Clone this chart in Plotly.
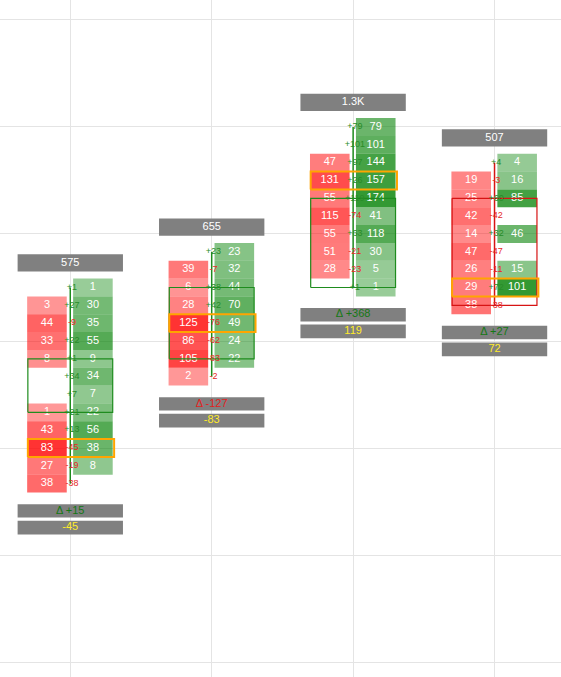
import plotly.graph_objects as go

# ---- data ----
candle_x = [0, 1, 2, 3]
top_level = [3, 5, 12, 10]          # price level of first (highest) row
bid_vol = [
    [None, 3, 44, 33, 8, None, None, 1, 43, 83, 27, 38],
    [None, 39, 6, 28, 125, 86, 105, 2],
    [None, None, 47, 131, 55, 115, 55, 51, 28, None],
    [None, 19, 25, 42, 14, 47, 26, 29, 38],
]
ask_vol = [
    [1, 30, 35, 55, 9, 34, 7, 22, 56, 38, 8, None],
    [23, 32, 44, 70, 49, 24, 22, None],
    [79, 101, 144, 157, 174, 41, 118, 30, 5, 1],
    [4, 16, 85, None, 46, None, 15, 101, None],
]
open_level = [-4, -1, 3, 8]
close_level = [-1, 3, 8, 2]

FONT = "Liberation Sans, Arial, sans-serif"
GREEN_LINE = "rgb(30,140,30)"
RED_LINE = "rgb(215,20,20)"
GRAY = "rgb(128,128,128)"

fig = go.Figure()


def fmt_total(v):
    return f"{v/1000:.1f}K" if v >= 1000 else str(v)


# cells
for i, cx in enumerate(candle_x):
    bids = bid_vol[i]
    asks = ask_vol[i]
    levels = [top_level[i] - k for k in range(len(bids))]
    vmax = max(v for v in bids + asks if v is not None)
    for side, vals, xoff, base_rgb in (
        ("bid", bids, -0.165, (255, 0, 0)),
        ("ask", asks, 0.16, (0, 128, 0)),
    ):
        xs, bases, cols, tx, ty, tt = [], [], [], [], [], []
        for lv, v in zip(levels, vals):
            if v is None:
                continue
            a = 0.4 + 0.4 * v / vmax
            xs.append(cx + xoff)
            bases.append(lv - 0.5)
            cols.append(f"rgba({base_rgb[0]},{base_rgb[1]},{base_rgb[2]},{a:.3f})")
            tx.append(cx + xoff)
            ty.append(lv)
            tt.append(str(v))
        fig.add_trace(go.Bar(x=xs, y=[1] * len(xs), base=bases, width=0.28,
                             marker=dict(color=cols, line=dict(width=0)),
                             hoverinfo="skip"))
        fig.add_trace(go.Scatter(x=tx, y=ty, mode="text", text=tt,
                                 textfont=dict(color="white", size=11, family=FONT),
                                 hoverinfo="skip"))

# wicks, bodies, POC, headers/footers, delta labels
for i, cx in enumerate(candle_x):
    bids = bid_vol[i]
    asks = ask_vol[i]
    n = len(bids)
    levels = [top_level[i] - k for k in range(n)]
    high, low = levels[0], levels[-1]
    up = close_level[i] >= open_level[i]
    lc = GREEN_LINE if up else RED_LINE
    # wick
    fig.add_trace(go.Scatter(x=[cx, cx], y=[high, low], mode="lines",
                             line=dict(color=lc, width=1.5), hoverinfo="skip"))
    # body
    o, c = open_level[i], close_level[i]
    fig.add_trace(go.Scatter(x=[cx - 0.30, cx + 0.30, cx + 0.30, cx - 0.30, cx - 0.30],
                             y=[o, o, c, c, o], mode="lines",
                             line=dict(color=lc, width=1.2), hoverinfo="skip"))
    # deltas
    deltas = [(a or 0) - (b or 0) for a, b in zip(asks, bids)]
    totals = [(a or 0) + (b or 0) for a, b in zip(asks, bids)]
    fig.add_trace(go.Scatter(
        x=[cx + 0.012] * n, y=levels, mode="text",
        text=[f"{d:+d}" for d in deltas],
        textfont=dict(size=9, family=FONT,
                      color=["rgb(40,140,40)" if d >= 0 else "rgb(230,40,40)" for d in deltas]),
        hoverinfo="skip"))
    # POC
    k = totals.index(max(totals))
    pl = levels[k]
    fig.add_trace(go.Scatter(x=[cx - 0.30, cx + 0.31, cx + 0.31, cx - 0.30, cx - 0.30],
                             y=[pl - 0.5, pl - 0.5, pl + 0.5, pl + 0.5, pl - 0.5],
                             mode="lines", line=dict(color="rgb(255,165,0)", width=2),
                             hoverinfo="skip"))
    # header / footers
    tot = sum(totals)
    dsum = sum(deltas)
    dmax = max(deltas, key=lambda d: abs(d))
    boxes = [
        (high + 0.9, high + 1.87, fmt_total(tot), "white"),
        (low - 1.9, low - 1.15, f"Δ {dsum:+d}", "rgb(20,120,20)" if dsum >= 0 else "rgb(225,30,30)"),
        (low - 2.85, low - 2.08, str(dmax), "rgb(255,235,40)"),
    ]
    for y0, y1, txt, tc in boxes:
        fig.add_trace(go.Bar(x=[cx], y=[y1 - y0], base=[y0], width=0.745,
                             marker=dict(color=GRAY, line=dict(width=0)), hoverinfo="skip"))
        fig.add_trace(go.Scatter(x=[cx], y=[(y0 + y1) / 2], mode="text", text=[txt],
                                 textfont=dict(color=tc, size=11, family=FONT),
                                 hoverinfo="skip"))

fig.update_layout(
    width=561, height=677, margin=dict(l=0, r=0, t=0, b=0),
    barmode="overlay", showlegend=False,
    plot_bgcolor="white", paper_bgcolor="white",
    xaxis=dict(range=[-0.497, 3.47], tickvals=candle_x, showticklabels=False,
               showgrid=True, gridcolor="rgb(228,228,228)", gridwidth=1, zeroline=False,
               fixedrange=True),
    yaxis=dict(range=[-18.84, 19.12], tick0=0, dtick=6, showticklabels=False,
               showgrid=True, gridcolor="rgb(228,228,228)", gridwidth=1, zeroline=False,
               fixedrange=True),
)

fig.write_html("out.html", config={"displayModeBar": False},
               post_script="document.body.style.margin='0';document.body.style.overflow='hidden';")
